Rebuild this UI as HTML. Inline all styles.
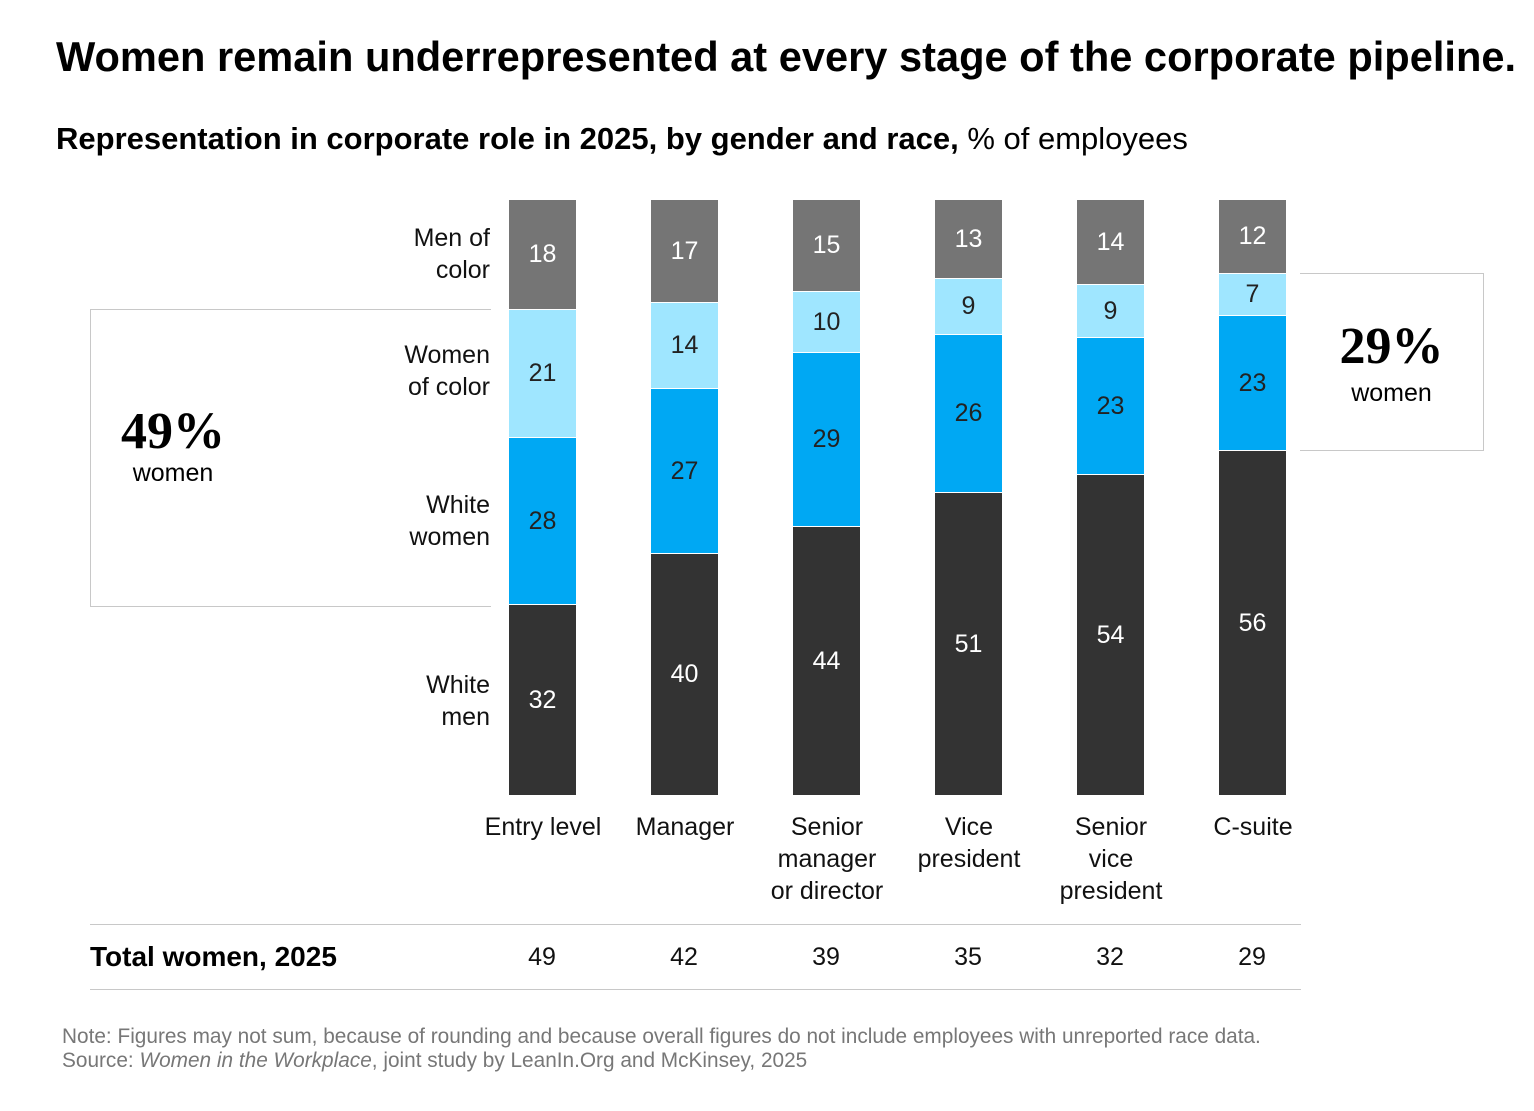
<!DOCTYPE html>
<html><head><meta charset="utf-8"><style>
body{margin:0;width:1534px;height:1111px;background:#fff;font-family:"Liberation Sans",sans-serif;color:#000;position:relative;overflow:hidden}
.a{position:absolute}
.seg{position:absolute;left:0;width:67px;color:#fff;font-size:25px;display:flex;align-items:center;justify-content:center;box-sizing:border-box}
.lbl{position:absolute;text-align:right;font-size:25px;line-height:32px;color:#111;right:1044px}
.cat{position:absolute;text-align:center;font-size:25px;line-height:32px;width:160px;color:#111}
.tot{position:absolute;top:943px;font-size:25px;width:100px;text-align:center;color:#111}
</style></head><body>
<div class="a" style="left:56px;top:33px;font-size:41.6px;font-weight:bold;white-space:nowrap">Women remain underrepresented at every stage of the corporate pipeline.</div>
<div class="a" style="left:56px;top:121px;font-size:31px;white-space:nowrap"><b>Representation in corporate role in 2025, by gender and race,</b> % of employees</div>

<div class="a" style="left:90px;top:309px;width:400px;height:296px;border:1px solid #c8c8c8;border-right:none"></div>
<div class="a" style="left:1300px;top:273px;width:183px;height:176px;border:1px solid #c8c8c8;border-left:none"></div>
<div class="a" style="left:90px;top:402px;width:166px;text-align:center;font-family:'Liberation Serif',serif;font-weight:bold;font-size:52px">49%</div>
<div class="a" style="left:90px;top:459px;width:166px;text-align:center;font-size:25px">women</div>
<div class="a" style="left:1300px;top:317px;width:183px;text-align:center;font-family:'Liberation Serif',serif;font-weight:bold;font-size:52px">29%</div>
<div class="a" style="left:1300px;top:379px;width:183px;text-align:center;font-size:25px">women</div>

<div class="lbl" style="top:222px">Men of<br>color</div>
<div class="lbl" style="top:339px">Women<br>of color</div>
<div class="lbl" style="top:489px">White<br>women</div>
<div class="lbl" style="top:669px">White<br>men</div>

<div id="bars"></div>
<script>
var xs=[509,651,793,935,1077,1219];
var b=[[200,309,437,604],[200,302,388,553],[200,291,352,526],[200,278,334,492],[200,284,337,474],[200,273,315,450]];
var v=[[18,21,28,32],[17,14,27,40],[15,10,29,44],[13,9,26,51],[14,9,23,54],[12,7,23,56]];
var c=['#757575','#9fe6ff','#00a8f3','#333333'],tc=['#fff','#222','#222','#fff'];
var h='';
for(var i=0;i<6;i++){var e=b[i].concat([795]);for(var j=0;j<4;j++){
h+='<div class="seg" style="left:'+xs[i]+'px;top:'+e[j]+'px;height:'+(e[j+1]-e[j])+'px;background:'+c[j]+';color:'+tc[j]+';'+(j>0?'border-top:1px solid #fff;':'')+'">'+v[i][j]+'</div>';}}
document.getElementById('bars').innerHTML=h;
</script>

<div class="cat" style="left:463px;top:811px">Entry level</div>
<div class="cat" style="left:605px;top:811px">Manager</div>
<div class="cat" style="left:747px;top:811px">Senior<br>manager<br>or director</div>
<div class="cat" style="left:889px;top:811px">Vice<br>president</div>
<div class="cat" style="left:1031px;top:811px">Senior<br>vice<br>president</div>
<div class="cat" style="left:1173px;top:811px">C-suite</div>

<div class="a" style="left:90px;top:924px;width:1211px;border-top:1px solid #c8c8c8"></div>
<div class="a" style="left:90px;top:989px;width:1211px;border-top:1px solid #c8c8c8"></div>
<div class="a" style="left:90px;top:941px;font-size:28px;font-weight:bold">Total women, 2025</div>
<div class="tot" style="left:492px">49</div><div class="tot" style="left:634px">42</div><div class="tot" style="left:776px">39</div><div class="tot" style="left:918px">35</div><div class="tot" style="left:1060px">32</div><div class="tot" style="left:1202px">29</div>

<div class="a" style="left:62px;top:1025px;font-size:20.8px;color:#777;line-height:24px;white-space:nowrap">Note: Figures may not sum, because of rounding and because overall figures do not include employees with unreported race data.<br>Source: <i>Women in the Workplace</i>, joint study by LeanIn.Org and McKinsey, 2025</div>
</body></html>
